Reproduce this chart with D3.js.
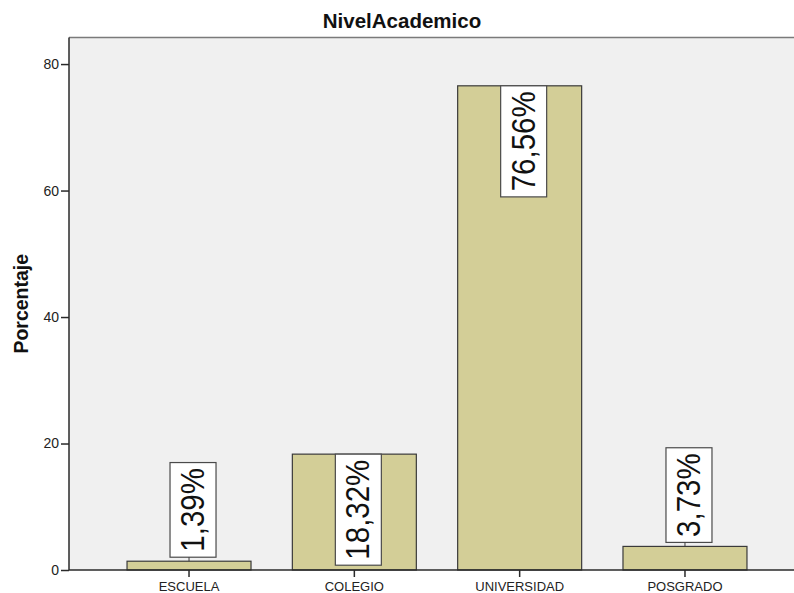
<!DOCTYPE html>
<html>
<head>
<meta charset="utf-8">
<script src="https://cdn.jsdelivr.net/npm/d3@7/dist/d3.min.js"></script>
<style>
  html, body { margin: 0; padding: 0; background: #ffffff; }
  svg { display: block; font-family: "Liberation Sans", Arial, sans-serif; }
</style>
</head>
<body>
<svg id="chart" width="794" height="593"></svg>
<script>
// Nivel académico: porcentaje de respuestas por categoría
const categories = ["ESCUELA", "COLEGIO", "UNIVERSIDAD", "POSGRADO"];
const percentages = [1.39, 18.32, 76.56, 3.73];
const yTicks = [0, 20, 40, 60, 80];
const yMax = 84.2;
const chartTitle = "NivelAcademico";
const yTitle = "Porcentaje";

const svg = d3.select("#chart");
const plot = { left: 69, right: 805, top: 37.5, bottom: 570 };

const x = d3.scaleBand()
  .domain(categories)
  .range([plot.left, plot.right])
  .paddingInner(0.25)
  .paddingOuter(0.351);

const y = d3.scaleLinear()
  .domain([0, yMax])
  .range([plot.bottom, plot.top]);

// plot background
svg.append("rect")
  .attr("x", plot.left).attr("y", plot.top)
  .attr("width", plot.right - plot.left).attr("height", plot.bottom - plot.top)
  .attr("fill", "#f0f0f0")
  .attr("stroke", "none");
svg.append("line")
  .attr("x1", plot.left).attr("x2", plot.right)
  .attr("y1", plot.top).attr("y2", plot.top)
  .attr("stroke", "#7a7a7a").attr("stroke-width", 1.5);

// bars
svg.append("g").selectAll("rect")
  .data(categories.map((c, i) => ({ c, v: percentages[i] })))
  .join("rect")
  .attr("x", d => x(d.c))
  .attr("y", d => y(d.v))
  .attr("width", x.bandwidth())
  .attr("height", d => y(0) - y(d.v))
  .attr("fill", "#d3ce97")
  .attr("stroke", "#3a3a3a")
  .attr("stroke-width", 1.2);

// axes
const yAxis = d3.axisLeft(y).tickValues(yTicks).tickSize(8).tickPadding(2).tickFormat(d3.format("d"));
const gy = svg.append("g").attr("transform", `translate(${plot.left},0)`).call(yAxis);
gy.select(".domain").attr("d", `M0,${plot.top}V${plot.bottom}`).attr("stroke", "#2a2a2a").attr("stroke-width", 1.5);
gy.selectAll(".tick line").attr("stroke", "#2a2a2a").attr("stroke-width", 1.5);
gy.selectAll(".tick text").attr("font-size", 14).attr("fill", "#222")
  .attr("font-family", "'Liberation Sans', Arial, sans-serif");

const xAxis = d3.axisBottom(x).tickSize(7).tickPadding(5);
const gx = svg.append("g").attr("transform", `translate(0,${plot.bottom})`).call(xAxis);
gx.select(".domain").attr("d", `M${plot.left},0H${plot.right}`).attr("stroke", "#2a2a2a").attr("stroke-width", 1.5);
gx.selectAll(".tick line").attr("stroke", "#2a2a2a").attr("stroke-width", 1.5);
gx.selectAll(".tick text").attr("font-size", 13).attr("fill", "#222")
  .attr("font-family", "'Liberation Sans', Arial, sans-serif");

// value labels: rotated text in white boxes
const fmt = v => v.toFixed(2).replace(".", ",") + "%";
const labelFont = 29.5;
const boxW = 46, padLen = 5.5, gap = 4, dx = 4;
const labels = svg.append("g");
categories.forEach((c, i) => {
  const v = percentages[i];
  const cx = x(c) + x.bandwidth() / 2;
  const g = labels.append("g");
  const t = g.append("text")
    .text(fmt(v))
    .attr("font-size", labelFont)
    .attr("fill", "#111")
    .attr("text-anchor", "middle")
    .attr("dominant-baseline", "central");
  const len = t.node().getComputedTextLength();
  const boxH = len + 2 * padLen;
  const barTop = y(v);
  const barH = y(0) - barTop;
  let top;
  if (boxH <= barH) {
    top = barTop;
  } else {
    top = barTop - gap - boxH;
    g.append("line")
      .attr("x1", cx).attr("x2", cx)
      .attr("y1", top + boxH).attr("y2", barTop)
      .attr("stroke", "#3a3a3a").attr("stroke-width", 1);
  }
  const bx = cx + dx;
  g.insert("rect", "text")
    .attr("x", bx - boxW / 2).attr("y", top)
    .attr("width", boxW).attr("height", boxH)
    .attr("fill", "#ffffff")
    .attr("stroke", "#4a4a4a").attr("stroke-width", 1.2);
  t.attr("transform", `translate(${bx},${top + boxH / 2}) rotate(-90) scale(1,1.1)`);
});

// titles
svg.append("text")
  .attr("x", 402).attr("y", 28)
  .attr("text-anchor", "middle")
  .attr("font-size", 20.5).attr("font-weight", "bold").attr("fill", "#111")
  .text(chartTitle);

svg.append("text")
  .attr("transform", `translate(28,${(plot.top + plot.bottom) / 2}) rotate(-90)`)
  .attr("text-anchor", "middle")
  .attr("font-size", 19.5).attr("font-weight", "bold").attr("fill", "#111")
  .text(yTitle);
</script>
</body>
</html>
